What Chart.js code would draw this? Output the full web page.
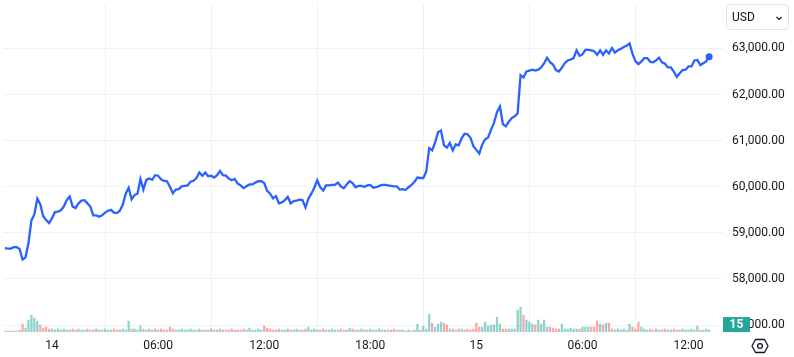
<!DOCTYPE html>
<html><head><meta charset="utf-8">
<script src="https://cdn.jsdelivr.net/npm/chart.js@4.4.1/dist/chart.umd.min.js"></script>
<style>
html,body{margin:0;padding:0;background:#fff;}
#wrap{position:relative;width:794px;height:357px;overflow:hidden;}
#c{position:absolute;left:0;top:0;}
#usd{position:absolute;left:726px;top:4px;width:63px;height:26px;border:1px solid #e0e3eb;border-radius:4px;box-sizing:border-box;font:12px Roboto, "Liberation Sans", sans-serif;color:#131722;}
#usd span{position:absolute;left:5px;top:5px;}
#usd svg{position:absolute;right:5px;top:9px;}
#gear{position:absolute;left:750px;top:337px;}
</style></head>
<body>
<div id="wrap">
<canvas id="c" width="794" height="357"></canvas>
<div id="usd"><span>USD</span><svg width="8" height="8" viewBox="0 0 8 8"><path d="M1.5 3 L4 5.5 L6.5 3" fill="none" stroke="#131722" stroke-width="1.2"/></svg></div>
<svg id="gear" width="20" height="18" viewBox="0 0 20 18"><path d="M5.5 2.5 L14.5 2.5 L18 9 L14.5 15.5 L5.5 15.5 L2 9 Z" fill="none" stroke="#131722" stroke-width="1.3" stroke-linejoin="round"/><circle cx="10" cy="9" r="2.4" fill="none" stroke="#131722" stroke-width="1.3"/></svg>
</div>
<script>
// 10-minute samples starting 13th 21:20 (hours relative to 14th 00:00)
const startHour = -160 / 60;
const stepHours = 10 / 60;
const prices = [
58670,58660,58660,58690,58690,58650,58420,58470,58780,59270,
59400,59740,59620,59360,59280,59210,59320,59450,59460,59490,
59570,59710,59790,59570,59540,59640,59700,59710,59640,59570,
59380,59380,59350,59380,59440,59480,59500,59440,59430,59480,
59610,59850,59980,59730,59820,59850,60170,59940,60150,60180,
60150,60250,60240,60160,60130,60120,60000,59860,59940,59950,
60010,60020,60030,60110,60130,60190,60310,60240,60310,60230,
60240,60200,60250,60340,60250,60240,60180,60140,60170,60070,
60030,59970,60010,60050,60050,60090,60120,60120,60080,59910,
59850,59750,59800,59640,59660,59710,59780,59640,59690,59700,
59720,59710,59550,59740,59850,59980,60140,59990,59920,60030,
60030,60040,60040,60090,60010,59970,60050,60120,60080,59990,
60020,60020,60000,60030,60040,59980,59990,60020,60040,60040,
60030,60020,60010,60010,59940,59950,59930,59990,60040,60110,
60200,60190,60190,60330,60840,60790,60960,61180,61220,60900,
60850,60950,60790,60920,60900,61050,61150,61140,61060,60880,
60800,60720,60920,61030,61070,61240,61390,61620,61740,61360,
61310,61410,61490,61530,61590,62420,62370,62500,62520,62540,
62520,62540,62590,62680,62800,62700,62650,62530,62500,62580,
62680,62740,62760,62790,62960,62840,62870,62970,62970,62960,
62940,62860,62960,62860,62960,62890,63010,62910,62960,62990,
63030,63060,63110,62880,62720,62660,62720,62790,62790,62710,
62700,62740,62800,62700,62670,62590,62590,62500,62380,62460,
62530,62540,62610,62610,62740,62750,62640,62680,62720,62820
];
const volumes = [
1,1,1,1,1,2,8,4,12,17,
14,11,7,4,5,3,3,2,3,2,
3,2,2,3,2,3,2,2,3,2,
2,3,2,2,3,2,2,3,2,2,
3,2,11,3,3,2,6,3,2,3,
2,3,2,3,2,2,5,3,2,2,
3,2,2,3,2,2,3,2,2,2,
3,2,2,3,2,2,2,3,2,2,
2,3,2,4,2,2,3,2,6,4,
3,2,2,3,2,2,3,2,2,3,
2,2,3,5,2,3,2,2,3,2,
2,3,2,2,3,2,2,4,3,2,
2,3,2,2,3,2,2,3,2,2,
2,2,3,2,2,2,1,2,1,2,
8,2,6,3,18,9,5,8,10,9,
7,3,3,2,3,3,2,3,2,3,
9,5,5,10,6,7,7,15,8,3,
3,3,3,3,22,25,17,12,10,8,
7,12,8,12,5,5,4,3,3,8,
3,3,4,3,3,3,5,5,5,5,
5,11,8,7,9,9,3,2,3,2,
3,2,8,5,3,10,5,3,2,3,
2,3,2,2,3,2,2,3,2,2,
3,2,2,3,2,6,2,2,3,2
];
const tickHours = [0, 6, 12, 18, 24, 30, 36];
const tickLabels = ['14', '06:00', '12:00', '18:00', '15', '06:00', '12:00'];
const priceTicks = [57000, 58000, 59000, 60000, 61000, 62000, 63000];
const currencyLabel = 'USD';
const lastVolumeLabel = '15';

const FONT = 'Roboto, "Liberation Sans", sans-serif';
const TEXT = '#131722';
const GRID = '#eff1f5';
const UP = 'rgba(38,166,154,0.5)';
const DOWN = 'rgba(239,83,80,0.5)';

const xs = prices.map((_, i) => startHour + i * stepHours);
const lineData = prices.map((p, i) => ({x: xs[i], y: p}));
const volData = volumes.map((v, i) => ({x: xs[i], y: v}));
const volColors = volumes.map((v, i) => (i === 0 || prices[i] >= prices[i - 1]) ? UP : DOWN);
const last = prices.length - 1;

const badgePlugin = {
  id: 'badge',
  afterDraw(chart) {
    const ctx = chart.ctx;
    const ys = chart.scales.y;
    const x0 = chart.chartArea.right;
    const yc = ys.getPixelForValue(priceTicks[0]);
    ctx.save();
    ctx.fillStyle = '#26a69a';
    ctx.fillRect(x0, yc - 8, 27, 15);
    ctx.fillStyle = '#ffffff';
    ctx.font = 'bold 12px ' + FONT;
    ctx.textAlign = 'center';
    ctx.textBaseline = 'middle';
    ctx.fillText(lastVolumeLabel, x0 + 13.5, yc);
    ctx.restore();
  }
};

new Chart(document.getElementById('c'), {
  data: {
    datasets: [
      {
        type: 'line', data: lineData, yAxisID: 'y', order: 0,
        borderColor: '#2962ff', borderWidth: 2.3, tension: 0,
        pointRadius: (c) => c.dataIndex === last ? 3.5 : 0,
        pointBackgroundColor: '#2962ff', pointBorderWidth: 0,
        clip: false
      },
      {
        type: 'bar', data: volData, yAxisID: 'yv', order: 1,
        backgroundColor: volColors, barThickness: 1.6, borderWidth: 0
      }
    ]
  },
  options: {
    responsive: false, animation: false, devicePixelRatio: 1,
    layout: {padding: 0},
    plugins: {legend: {display: false}, tooltip: {enabled: false}},
    scales: {
      x: {
        type: 'linear', min: -2.717, max: 37.95, offset: false,
        afterBuildTicks: (s) => { s.ticks = tickHours.map(v => ({value: v})); },
        ticks: {
          autoSkip: false, maxRotation: 0, padding: 7, color: TEXT,
          font: {family: FONT, size: 12},
          callback: (v, i) => tickLabels[i]
        },
        grid: {color: GRID, drawTicks: false},
        border: {display: false},
        afterFit: (s) => { s.height = 25; s.paddingLeft = 0; s.paddingRight = 0; }
      },
      y: {
        position: 'right', min: 56850, max: 63964,
        afterBuildTicks: (s) => { s.ticks = priceTicks.map(v => ({value: v})); },
        ticks: {
          padding: 9, color: TEXT, font: {family: FONT, size: 12},
          callback: (v) => v.toLocaleString('en-US', {minimumFractionDigits: 2, maximumFractionDigits: 2})
        },
        grid: {color: GRID, drawTicks: false},
        border: {display: false},
        afterFit: (s) => { s.width = 71; s.paddingTop = 0; s.paddingBottom = 0; }
      },
      yv: {display: false, min: 0, max: 332}
    }
  },
  plugins: [badgePlugin]
});
document.querySelector('#usd span').textContent = currencyLabel;
</script>
</body></html>
